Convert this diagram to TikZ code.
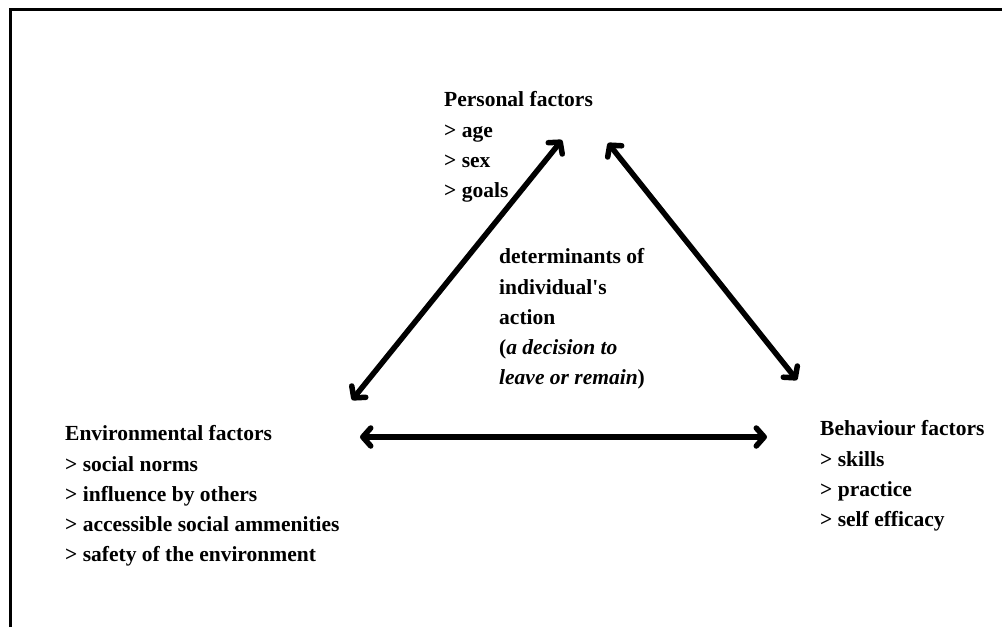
\documentclass[tikz,border=0pt]{standalone}
\usepackage{fontspec}
\setmainfont{Liberation Serif}
\usetikzlibrary{arrows.meta}
\tikzset{
  factor/.style={anchor=north west, align=left, inner sep=0pt,
    font=\fontsize{21.5}{30.2}\selectfont\bfseries},
  barb/.tip={Straight Barb[length=8pt,width=18pt,line cap=round,line join=round]},
  link/.style={line width=5.5pt, barb-barb}
}
\begin{document}
\begin{tikzpicture}[x=1pt,y=-1pt]
\useasboundingbox (0,0) rectangle (1002,627);
% frame
\draw[line width=2.5pt] (10.5,627) -- (10.5,9.5) -- (1002,9.5);
% factor blocks
\node[factor] (personal) at (444,91.5) {Personal factors\\> age\\> sex\\> goals};
\node[factor] (environ) at (65,425.5) {Environmental factors\\> social norms\\> influence by others\\> accessible social ammenities\\> safety of the environment};
\node[factor] (behav) at (820,420.5) {Behaviour factors\\> skills\\> practice\\> self efficacy};
\node[factor] (action) at (499,248.5) {determinants of\\individual\textquotesingle s\\action\\(\textit{a decision to}\\\textit{leave or remain})};
% arrow ends
\coordinate (pl) at (562,140);
\coordinate (el) at (352,400);
\coordinate (pr) at (608,143);
\coordinate (br) at (797,380);
\coordinate (eb) at (360,437);
\coordinate (be) at (767,437);
% arrows
\draw[link] (el) -- (pl);
\draw[link] (pr) -- (br);
\draw[link] (eb) -- (be);
\end{tikzpicture}
\end{document}
